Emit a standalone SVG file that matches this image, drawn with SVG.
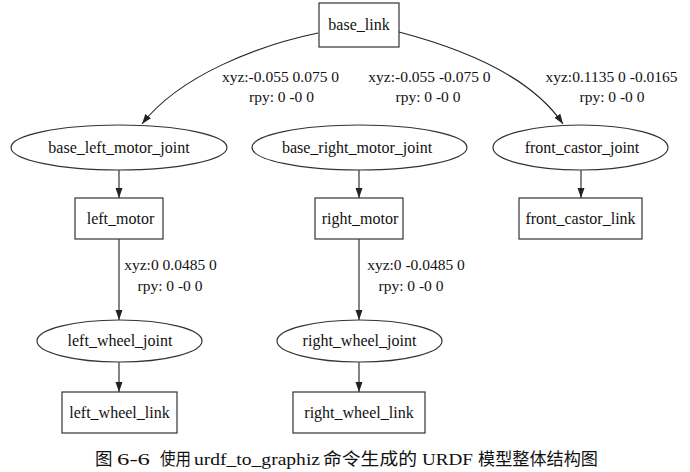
<svg xmlns="http://www.w3.org/2000/svg" width="690" height="472" viewBox="0 0 690 472">
<style>
  .bg { fill: #ffffff; }
  .box { fill: #ffffff; stroke: #333333; stroke-width: 1.2; }
  .ell { fill: #ffffff; stroke: #333333; stroke-width: 1.2; }
  .lbl { font-family: "Liberation Serif", "Times New Roman", serif; font-size: 16px; fill: #111111; text-anchor: middle; }
  .elbl { font-family: "Liberation Serif", "Times New Roman", serif; font-size: 15.5px; fill: #111111; text-anchor: middle; }
  .edge { fill: none; stroke: #222222; stroke-width: 1.1; marker-end: url(#arrow); }
  .cap { font-family: "Liberation Serif", "Noto Sans CJK SC", serif; font-size: 17.5px; fill: #111111; }
</style>
<defs>
  <marker id="arrow" markerUnits="userSpaceOnUse" markerWidth="10" markerHeight="8" refX="10" refY="4" orient="auto">
    <path d="M0,0.5 L10,4 L0,7.5 z" fill="#222222"/>
  </marker>
</defs>
<rect class="bg" x="0" y="0" width="690" height="472"/>

<g id="connectors">
  <path class="edge" d="M318,33 C260,45 180,75 142,124"/>
  <path class="edge" d="M399,32 C460,48 530,75 563,124"/>
  <path class="edge" d="M119,170 L119,198"/>
  <path class="edge" d="M359,170 L359,198"/>
  <path class="edge" d="M581,170 L581,198"/>
  <path class="edge" d="M119,239 L119,320"/>
  <path class="edge" d="M359,239 L359,320"/>
  <path class="edge" d="M119,362 L119,392"/>
  <path class="edge" d="M359,362 L359,392"/>
  <text class="elbl" x="280.5" y="82">xyz:-0.055 0.075 0</text>
  <text class="elbl" x="281.5" y="102">rpy: 0 -0 0</text>
  <text class="elbl" x="429.5" y="82">xyz:-0.055 -0.075 0</text>
  <text class="elbl" x="428" y="102">rpy: 0 -0 0</text>
  <text class="elbl" x="611.5" y="82">xyz:0.1135 0 -0.0165</text>
  <text class="elbl" x="612" y="102">rpy: 0 -0 0</text>
  <text class="elbl" x="170.5" y="270">xyz:0 0.0485 0</text>
  <text class="elbl" x="170" y="291">rpy: 0 -0 0</text>
  <text class="elbl" x="416" y="270">xyz:0 -0.0485 0</text>
  <text class="elbl" x="411" y="291">rpy: 0 -0 0</text>
</g>

<g id="base_link">
  <rect class="box" x="319" y="3" width="80" height="44"/>
  <text class="lbl" x="359" y="30">base_link</text>
</g>
<g id="base_left_motor_joint">
  <ellipse class="ell" cx="119" cy="147.5" rx="108" ry="22.5"/>
  <text class="lbl" x="119" y="152.5">base_left_motor_joint</text>
</g>
<g id="base_right_motor_joint">
  <ellipse class="ell" cx="359.5" cy="147.5" rx="107.5" ry="22.5"/>
  <text class="lbl" x="357" y="152.5">base_right_motor_joint</text>
</g>
<g id="front_castor_joint">
  <ellipse class="ell" cx="580.5" cy="147.5" rx="87.5" ry="22.5"/>
  <text class="lbl" x="582" y="152.5">front_castor_joint</text>
</g>
<g id="left_motor">
  <rect class="box" x="75" y="198" width="88" height="41"/>
  <text class="lbl" x="120.5" y="223.5">left_motor</text>
</g>
<g id="right_motor">
  <rect class="box" x="315" y="198" width="88" height="41"/>
  <text class="lbl" x="360" y="223.5">right_motor</text>
</g>
<g id="front_castor_link">
  <rect class="box" x="519" y="198" width="123" height="41"/>
  <text class="lbl" x="580.5" y="223.5">front_castor_link</text>
</g>
<g id="left_wheel_joint">
  <ellipse class="ell" cx="119.5" cy="341" rx="82.5" ry="21"/>
  <text class="lbl" x="120" y="346">left_wheel_joint</text>
</g>
<g id="right_wheel_joint">
  <ellipse class="ell" cx="359.5" cy="341" rx="82.5" ry="21"/>
  <text class="lbl" x="359.5" y="346">right_wheel_joint</text>
</g>
<g id="left_wheel_link">
  <rect class="box" x="62" y="392" width="115" height="41"/>
  <text class="lbl" x="119.5" y="417.5">left_wheel_link</text>
</g>
<g id="right_wheel_link">
  <rect class="box" x="293" y="392" width="132" height="41"/>
  <text class="lbl" x="359" y="417.5">right_wheel_link</text>
</g>

<g id="caption">
  <text class="cap" x="95" y="465">图</text>
  <text class="cap" x="117" y="465" textLength="33" lengthAdjust="spacingAndGlyphs">6-6</text>
  <text class="cap" x="160" y="465" textLength="31" lengthAdjust="spacingAndGlyphs">使用</text>
  <text class="cap" x="194" y="465" textLength="126" lengthAdjust="spacingAndGlyphs">urdf_to_graphiz</text>
  <text class="cap" x="323" y="465" textLength="94" lengthAdjust="spacingAndGlyphs">命令生成的</text>
  <text class="cap" x="422" y="465" textLength="51" lengthAdjust="spacingAndGlyphs">URDF</text>
  <text class="cap" x="478" y="465" textLength="120" lengthAdjust="spacingAndGlyphs">模型整体结构图</text>
</g>
</svg>
